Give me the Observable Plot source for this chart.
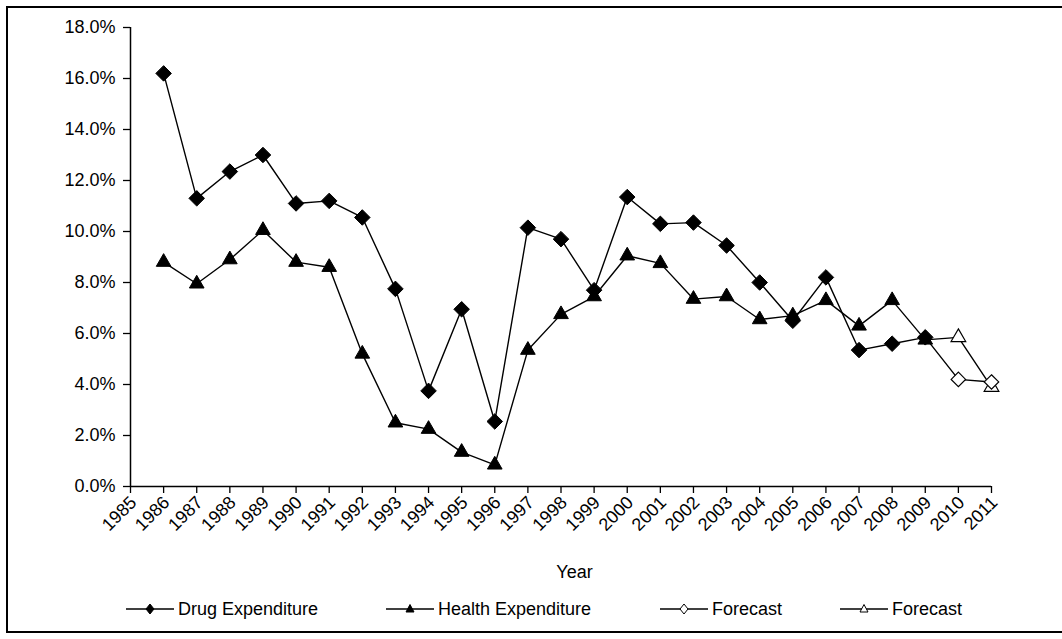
<!DOCTYPE html>
<html>
<head>
<meta charset="utf-8">
<script src="https://cdn.jsdelivr.net/npm/d3@7"></script>
<script src="https://cdn.jsdelivr.net/npm/@observablehq/plot@0.6"></script>
<style>
  html, body { margin: 0; padding: 0; background: #fff; }
  body { width: 1062px; height: 639px; position: relative; overflow: hidden; font-family: "Liberation Sans", Arial, sans-serif; }
  #frame { position: absolute; left: 6px; top: 6px; width: 1070px; height: 627px; border: 2px solid #000; box-sizing: border-box; pointer-events: none; }
  #chart { position: absolute; left: 0; top: 0; }
  .leg { position: absolute; top: 597px; height: 24px; display: flex; align-items: center; font-size: 18px; color: #000; white-space: nowrap; }
  .leg svg { margin-right: 4px; }
</style>
</head>
<body>
<div id="chart"></div>
<div id="frame"></div>
<div id="legend"></div>
<script>
const years = d3.range(1985, 2012);
const actualYears = d3.range(1986, 2010);
const drugExpenditure = [16.2, 11.3, 12.35, 13.0, 11.1, 11.2, 10.55, 7.75, 3.75, 6.95, 2.55, 10.15, 9.7, 7.7, 11.35, 10.3, 10.35, 9.45, 8.0, 6.5, 8.2, 5.35, 5.6, 5.85];
const healthExpenditure = [8.8, 7.95, 8.9, 10.05, 8.8, 8.6, 5.2, 2.5, 2.25, 1.35, 0.85, 5.35, 6.75, 7.45, 9.05, 8.75, 7.35, 7.45, 6.55, 6.7, 7.3, 6.3, 7.3, 5.75];
const forecastYears = [2009, 2010, 2011];
const drugForecast = [5.85, 4.2, 4.1];
const healthForecast = [5.75, 5.85, 3.9];
const yTicks = [0, 2, 4, 6, 8, 10, 12, 14, 16, 18];
const legendLabels = ["Drug Expenditure", "Health Expenditure", "Forecast", "Forecast"];

const drug = actualYears.map((y, i) => ({year: y, value: drugExpenditure[i]}));
const health = actualYears.map((y, i) => ({year: y, value: healthExpenditure[i]}));
const drugF = forecastYears.map((y, i) => ({year: y, value: drugForecast[i]}));
const healthF = forecastYears.map((y, i) => ({year: y, value: healthForecast[i]}));

const lw = 1.4;
const chart = Plot.plot({
  width: 1062,
  height: 639,
  marginLeft: 130,
  marginRight: 71,
  marginTop: 27,
  marginBottom: 153,
  style: {fontFamily: "'Liberation Sans', Arial, sans-serif", fontSize: "18px", background: "transparent"},
  x: {domain: [1985, 2011]},
  y: {domain: [0, 18]},
  marks: [
    Plot.axisY({ticks: yTicks, tickSize: 7, tickPadding: 8, tickFormat: d => d.toFixed(1) + "%", fontSize: 18, label: null, strokeWidth: 1.3}),
    Plot.axisX({ticks: years, tickSize: 7, tickFormat: () => "", label: null, strokeWidth: 1.3}),
    Plot.ruleX([1985], {stroke: "#000", strokeWidth: 1.5}),
    Plot.ruleY([0], {stroke: "#000", strokeWidth: 1.5}),
    Plot.text(years, {x: d => d, y: 0, text: d => String(d), rotate: -45, textAnchor: "end", lineAnchor: "middle", dx: 3, dy: 13, fontSize: 18, fill: "#000"}),
    Plot.text(["Year"], {x: 1985, y: 0, text: d => d, dx: 444, dy: 86, fontSize: 18, fill: "#000", textAnchor: "middle"}),
    Plot.line(healthF, {x: "year", y: "value", stroke: "#000", strokeWidth: lw}),
    Plot.line(drugF, {x: "year", y: "value", stroke: "#000", strokeWidth: lw}),
    Plot.line(health, {x: "year", y: "value", stroke: "#000", strokeWidth: lw}),
    Plot.line(drug, {x: "year", y: "value", stroke: "#000", strokeWidth: lw}),
    Plot.dot(healthF.slice(1), {x: "year", y: "value", symbol: "triangle2", r: 7, fill: "#fff", stroke: "#000", strokeWidth: 1.2}),
    Plot.dot(drugF.slice(1), {x: "year", y: "value", symbol: "diamond2", r: 6.5, fill: "#fff", stroke: "#000", strokeWidth: 1.2}),
    Plot.dot(health, {x: "year", y: "value", symbol: "triangle2", r: 7, fill: "#000", stroke: "#000", strokeWidth: 1}),
    Plot.dot(drug, {x: "year", y: "value", symbol: "diamond2", r: 7, fill: "#000", stroke: "#000", strokeWidth: 1})
  ]
});
document.getElementById("chart").appendChild(chart);

// legend
const legendItems = [
  {label: legendLabels[0], left: 126, sym: "diamond", fill: "#000"},
  {label: legendLabels[1], left: 386, sym: "triangle", fill: "#000"},
  {label: legendLabels[2], left: 660, sym: "diamond", fill: "#fff"},
  {label: legendLabels[3], left: 840, sym: "triangle", fill: "#fff"}
];
const legend = document.getElementById("legend");
for (const it of legendItems) {
  const div = document.createElement("div");
  div.className = "leg";
  div.style.left = it.left + "px";
  const shape = it.sym === "diamond"
    ? `<path d="M24,7 L28,12 L24,17 L20,12 Z" fill="${it.fill}" stroke="#000" stroke-width="1"/>`
    : `<path d="M24,7.5 L28,15 L20,15 Z" fill="${it.fill}" stroke="#000" stroke-width="1"/>`;
  div.innerHTML = `<svg width="48" height="24" viewBox="0 0 48 24"><line x1="0" y1="12" x2="48" y2="12" stroke="#000" stroke-width="1.4"/>${shape}</svg><span>${it.label}</span>`;
  legend.appendChild(div);
}
</script>
</body>
</html>
